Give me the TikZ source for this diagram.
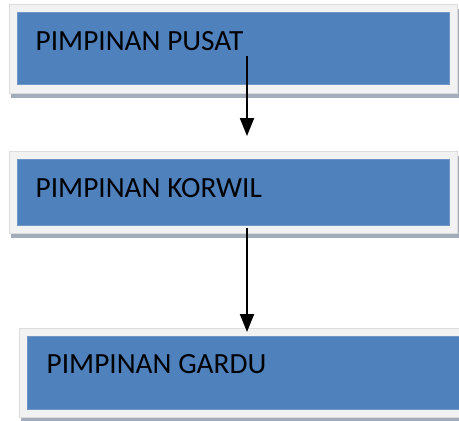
\documentclass[tikz,border=0pt]{standalone}
\usepackage{fontspec}
\setmainfont{Carlito}
\usetikzlibrary{arrows.meta}
\definecolor{boxblue}{HTML}{4F81BD}
\definecolor{boxedge}{HTML}{7096C8}
\definecolor{framegray}{HTML}{F2F2F2}
\definecolor{frameedge}{HTML}{DCDCDC}
\definecolor{shadowgray}{HTML}{A3ACBA}
\tikzset{
  shadowbox/.style={fill=shadowgray, draw=none},
  framebox/.style={fill=framegray, draw=frameedge, line width=0.6bp},
  bluebox/.style={fill=boxblue, draw=boxedge, line width=0.6bp},
  lbl/.style={font=\fontsize{29.3bp}{35bp}\selectfont, anchor=base west, inner sep=0pt, text=black},
  arr/.style={line width=2bp, -{Triangle[length=18bp,width=14bp]}}
}
\begin{document}
\begin{tikzpicture}[x=1bp,y=-1bp]
\useasboundingbox (0,0) rectangle (459,420);
% box 1
\fill[shadowbox] (11,9) rectangle (459,98);
\draw[framebox] (9,4) rectangle (457,93);
\draw[bluebox] (17,12) rectangle (449,84);
\node[lbl] (t1) at (35.5,50) {PIMPINAN PUSAT};
% box 2
\fill[shadowbox] (11,156) rectangle (459,238);
\draw[framebox] (9,151) rectangle (457,233);
\draw[bluebox] (17,159) rectangle (449,225);
\node[lbl] (t2) at (35.5,197) {PIMPINAN KORWIL};
% box 3
\fill[shadowbox] (21,334) rectangle (462,423);
\draw[framebox] (19,328) rectangle (462,417);
\draw[bluebox] (27,336) rectangle (462,409);
\node[lbl] (t3) at (46.5,373) {PIMPINAN GARDU};
% connectors
\coordinate (a1s) at (247,56);
\coordinate (a1e) at (247,136);
\coordinate (a2s) at (247,228);
\coordinate (a2e) at (247,332);
\draw[arr] (a1s) -- (a1e);
\draw[arr] (a2s) -- (a2e);
\end{tikzpicture}
\end{document}
